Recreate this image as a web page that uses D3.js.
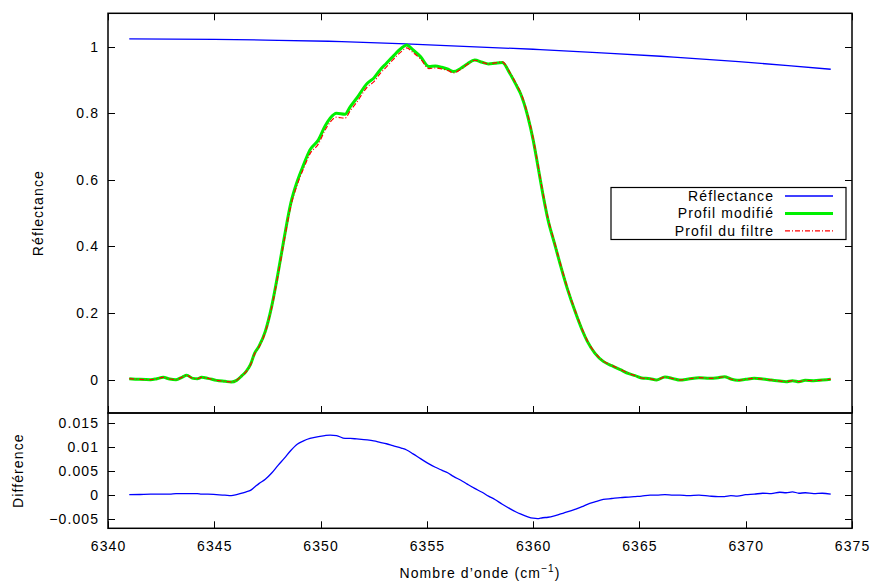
<!DOCTYPE html>
<html>
<head>
<meta charset="utf-8">
<script src="https://cdn.jsdelivr.net/npm/d3@7"></script>
<style>
  html, body { margin: 0; padding: 0; background: #fff; }
  svg { display: block; font-family: "Liberation Sans", Arial, Helvetica, sans-serif; }
</style>
</head>
<body>
<svg id="chart" width="875" height="582"></svg>
<script>
// ---------------- DATA ----------------
const wavenumbers = [6341.0,6341.5,6342.0,6342.3,6342.6,6342.9,6343.2,6343.5,6343.7,6344.0,6344.2,6344.4,6344.7,6345.1,6345.5,6345.8,6346.05,6346.3,6346.5,6346.7,6346.9,6347.1,6347.4,6347.7,6348.0,6348.3,6348.6,6348.9,6349.2,6349.5,6349.9,6350.2,6350.45,6350.75,6351.15,6351.4,6351.7,6352.2,6352.5,6352.8,6353.1,6353.4,6353.8,6354.05,6354.35,6354.7,6355.1,6355.4,6355.7,6356.0,6356.25,6356.6,6356.9,6357.25,6357.6,6357.9,6358.2,6358.55,6358.9,6359.2,6359.4,6359.75,6360.0,6360.2,6360.45,6360.7,6361.0,6361.3,6361.6,6362.0,6362.3,6362.55,6362.9,6363.3,6363.7,6364.1,6364.5,6364.8,6365.1,6365.5,6365.8,6366.2,6366.6,6366.9,6367.3,6367.8,6368.3,6368.7,6369.0,6369.3,6369.6,6370.0,6370.4,6370.8,6371.2,6371.6,6371.9,6372.2,6372.5,6372.8,6373.2,6373.6,6374.0];

const profilModifie = [0.003,0.001,0.000,0.003,0.007,0.002,0.000,0.008,0.013,0.004,0.003,0.007,0.004,-0.002,-0.005,-0.007,-0.002,0.012,0.025,0.045,0.080,0.100,0.145,0.220,0.320,0.430,0.530,0.595,0.645,0.690,0.720,0.760,0.785,0.800,0.797,0.820,0.845,0.890,0.905,0.930,0.950,0.970,0.995,1.005,0.990,0.970,0.940,0.942,0.938,0.932,0.925,0.935,0.948,0.960,0.953,0.948,0.950,0.952,0.920,0.885,0.860,0.790,0.720,0.650,0.560,0.480,0.410,0.340,0.275,0.200,0.150,0.115,0.080,0.055,0.042,0.030,0.018,0.012,0.005,0.003,-0.001,0.008,0.003,-0.001,0.002,0.006,0.004,0.006,0.009,0.002,-0.002,0.001,0.004,0.002,-0.001,-0.004,-0.006,-0.003,-0.006,-0.002,-0.003,-0.001,0.001];

const profilFiltre = [0.003,0.001,0.000,0.003,0.007,0.002,0.000,0.008,0.013,0.004,0.003,0.007,0.004,-0.002,-0.005,-0.007,-0.002,0.012,0.024,0.044,0.078,0.098,0.142,0.216,0.314,0.422,0.521,0.585,0.634,0.678,0.708,0.748,0.773,0.788,0.785,0.808,0.833,0.879,0.894,0.919,0.939,0.960,0.985,0.996,0.982,0.963,0.934,0.936,0.933,0.928,0.921,0.932,0.946,0.959,0.953,0.948,0.951,0.954,0.923,0.889,0.864,0.795,0.725,0.655,0.565,0.485,0.414,0.344,0.279,0.203,0.153,0.117,0.082,0.056,0.043,0.031,0.019,0.012,0.005,0.003,-0.001,0.008,0.003,-0.001,0.002,0.006,0.004,0.006,0.009,0.002,-0.002,0.001,0.004,0.002,-0.001,-0.004,-0.006,-0.003,-0.006,-0.002,-0.003,-0.001,0.001];

const difference = [0.0000,0.00004,0.0001,0.0001,0.0001,0.0001,0.0002,0.0002,0.0002,0.0002,0.0002,0.0001,0.0001,0.0000,-0.0001,-0.0002,0.0000,0.0003,0.0006,0.0009,0.0016,0.0023,0.0032,0.0045,0.0061,0.0076,0.0092,0.0105,0.0112,0.0117,0.0121,0.0123,0.0124,0.0123,0.0117,0.0117,0.0116,0.0114,0.0112,0.0109,0.0106,0.0102,0.0097,0.0093,0.0085,0.0075,0.0064,0.0057,0.0051,0.0045,0.0038,0.0030,0.0022,0.0013,0.0005,-0.0003,-0.0010,-0.0020,-0.0029,-0.0036,-0.0040,-0.0046,-0.0049,-0.0050,-0.0048,-0.0047,-0.0044,-0.0040,-0.0036,-0.0030,-0.0025,-0.0020,-0.0015,-0.0010,-0.0008,-0.0006,-0.0005,-0.0004,-0.0003,-0.0001,-0.0001,0.0000,-0.0001,-0.0001,-0.0002,-0.0001,-0.0003,-0.0004,-0.0004,-0.0002,-0.0003,0.0000,0.0001,0.0003,0.0002,0.0005,0.0004,0.0006,0.0003,0.0004,0.0002,0.0003,0.0001];

const reflWavenumbers = [6341,6345,6348,6351,6354,6357,6360,6363,6366,6369,6372,6374];
const reflectance     = [1.023,1.022,1.019,1.015,1.008,1.000,0.992,0.982,0.971,0.958,0.943,0.932];

const xTicks = [6340,6345,6350,6355,6360,6365,6370,6375];
const xTickLabels = ["6340","6345","6350","6355","6360","6365","6370","6375"];
const yTicksTop = [0,0.2,0.4,0.6,0.8,1];
const yTickLabelsTop = ["0","0.2","0.4","0.6","0.8","1"];
const yTicksBottom = [-0.005,0,0.005,0.01,0.015];
const yTickLabelsBottom = ["\u22120.005","0","0.005","0.01","0.015"];

const seriesNames = ["Réflectance","Profil modifié","Profil du filtre"];

// ---------------- LAYOUT ----------------
const svg = d3.select("#chart");
const L = 108, R = 852, T1 = 13.3, B1 = 413, B2 = 528.3;
const TICK = 7;
const LS = 1.1; // letter spacing

const x = d3.scaleLinear().domain([6340,6375]).range([L,R]);
const yTop = d3.scaleLinear().domain([-0.1,1.1]).range([B1,T1]);
const yBot = d3.scaleLinear().domain([-0.007,0.017]).range([B2,B1]);

const ink = "#000";

const defs = svg.append("defs");
defs.append("clipPath").attr("id","clipTop").append("rect").attr("x",L).attr("y",T1).attr("width",R-L).attr("height",B1-T1);
defs.append("clipPath").attr("id","clipBot").append("rect").attr("x",L).attr("y",B1).attr("width",R-L).attr("height",B2-B1);

// ---- ticks (inward, mirrored) ----
const gt = svg.append("g").attr("stroke",ink).attr("stroke-width",1);
xTicks.forEach(v => {
  const px = Math.round(x(v)) + 0.5;
  gt.append("line").attr("x1",px).attr("x2",px).attr("y1",B1).attr("y2",B1-TICK);
  gt.append("line").attr("x1",px).attr("x2",px).attr("y1",T1).attr("y2",T1+TICK);
  gt.append("line").attr("x1",px).attr("x2",px).attr("y1",B2).attr("y2",B2-TICK);
});
yTicksTop.forEach(v => {
  const py = Math.round(yTop(v)) + 0.5;
  gt.append("line").attr("x1",L).attr("x2",L+TICK).attr("y1",py).attr("y2",py);
  gt.append("line").attr("x1",R).attr("x2",R-TICK).attr("y1",py).attr("y2",py);
});
yTicksBottom.forEach(v => {
  const py = Math.round(yBot(v)) + 0.5;
  gt.append("line").attr("x1",L).attr("x2",L+TICK).attr("y1",py).attr("y2",py);
  gt.append("line").attr("x1",R).attr("x2",R-TICK).attr("y1",py).attr("y2",py);
});

// ---- tick labels ----
const fs = 14;
const gl = svg.append("g").attr("font-size",fs).attr("fill",ink).attr("letter-spacing",LS);
yTicksTop.forEach((v,i) => {
  gl.append("text").attr("x",L-10+LS).attr("y",yTop(v)).attr("dy","0.35em").attr("text-anchor","end").text(yTickLabelsTop[i]);
});
yTicksBottom.forEach((v,i) => {
  gl.append("text").attr("x",L-10+LS).attr("y",yBot(v)).attr("dy","0.35em").attr("text-anchor","end").text(yTickLabelsBottom[i]);
});
xTicks.forEach((v,i) => {
  gl.append("text").attr("x",x(v)+LS/2).attr("y",551).attr("text-anchor","middle").text(xTickLabels[i]);
});

// axis titles
gl.append("text").attr("transform",`translate(43,${(T1+B1)/2}) rotate(-90)`).attr("text-anchor","middle").text("Réflectance");
gl.append("text").attr("transform",`translate(23,${(B1+B2)/2}) rotate(-90)`).attr("text-anchor","middle").text("Différence");
const xt = gl.append("text").attr("x",(L+R)/2).attr("y",578).attr("text-anchor","middle");
xt.append("tspan").text("Nombre d\u2019onde (cm");
xt.append("tspan").attr("font-size",10).attr("dy",-6).text("\u22121");
xt.append("tspan").attr("dy",6).text(")");

// ---- data lines ----
const topData = wavenumbers.map((w,i) => ({w, m: profilModifie[i], f: profilFiltre[i], d: difference[i]}));
const reflData = reflWavenumbers.map((w,i) => ({w, r: reflectance[i]}));

const gTop = svg.append("g").attr("clip-path","url(#clipTop)");
gTop.append("path").datum(reflData)
  .attr("d", d3.line().x(d=>x(d.w)).y(d=>yTop(d.r)).curve(d3.curveNatural))
  .attr("fill","none").attr("stroke","#0000ff").attr("stroke-width",1.3);
gTop.append("path").datum(topData)
  .attr("d", d3.line().x(d=>x(d.w)).y(d=>yTop(d.m)).curve(d3.curveMonotoneX))
  .attr("fill","none").attr("stroke","#00f000").attr("stroke-width",3).attr("stroke-linejoin","round");
gTop.append("path").datum(topData)
  .attr("d", d3.line().x(d=>x(d.w)).y(d=>yTop(d.f)).curve(d3.curveMonotoneX))
  .attr("fill","none").attr("stroke","#ff0000").attr("stroke-width",1.2).attr("stroke-dasharray","5,2,1,2");

const gBot = svg.append("g").attr("clip-path","url(#clipBot)");
gBot.append("path").datum(topData)
  .attr("d", d3.line().x(d=>x(d.w)).y(d=>yBot(d.d)).curve(d3.curveMonotoneX))
  .attr("fill","none").attr("stroke","#0000ff").attr("stroke-width",1.3);

// ---- frames ----
svg.append("rect").attr("x",L).attr("y",T1).attr("width",R-L).attr("height",B1-T1)
  .attr("fill","none").attr("stroke",ink).attr("stroke-width",1.5);
svg.append("rect").attr("x",L).attr("y",B1).attr("width",R-L).attr("height",B2-B1)
  .attr("fill","none").attr("stroke",ink).attr("stroke-width",1.5);

// ---- legend ----
const lg = svg.append("g");
lg.append("rect").attr("x",611).attr("y",187.5).attr("width",235).attr("height",52)
  .attr("fill","#fff").attr("stroke",ink).attr("stroke-width",1.2);
const legendStyles = [
  {c:"#0000ff", w:1.3, dash:null},
  {c:"#00f000", w:3, dash:null},
  {c:"#ff0000", w:1.2, dash:"5,2,1,2"}
];
seriesNames.forEach((n,i) => {
  const cy = 196 + i*17.4;
  lg.append("text").attr("x",773+LS).attr("y",cy).attr("dy","0.35em").attr("text-anchor","end")
    .attr("font-size",fs).attr("letter-spacing",LS).attr("fill",ink).text(n);
  const s = legendStyles[i];
  const ln = lg.append("line").attr("x1",785).attr("x2",833).attr("y1",cy).attr("y2",cy)
    .attr("stroke",s.c).attr("stroke-width",s.w);
  if (s.dash) ln.attr("stroke-dasharray",s.dash);
});
</script>
</body>
</html>
